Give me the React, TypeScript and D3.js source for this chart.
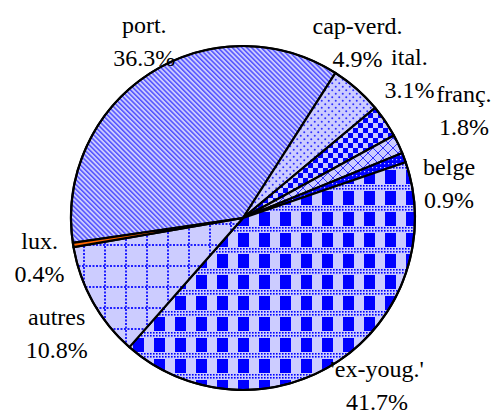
import React, { useEffect, useRef } from "react";
import * as d3 from "d3";

const W = 497;
const H = 414;
const cx = 243;
const cy = 218;
const radius = 172;

// slices, clockwise from the top-left ("port.")
const categories = ["port.", "cap-verd.", "ital.", "franç.", "belge", "'ex-youg.'", "autres", "lux."];
const shares = [36.3, 4.9, 3.1, 1.8, 0.9, 41.7, 10.8, 0.4];
const fills = ["url(#pPort)", "url(#pCap)", "url(#pItal)", "url(#pFranc)", "url(#pBelge)", "url(#pYoug)", "url(#pAutres)", "#ff6600"];

// where each label sits: angle shift (deg) from the slice middle, and distance from centre
const labelShift = [3.8, -8.3, -6.9, -0.7, 11, -5, -2.5, -1.7];
const labelDist = [203, 210, 221, 246, 209, 214, 219, 207];

const LIGHT = "#ccccff";
const BLUE = "#0000ff";
const FONT = "'Liberation Serif', 'Times New Roman', Times, Tinos, 'DejaVu Serif', 'Noto Serif', 'Noto Serif CJK SC', FreeSerif, serif";

export default function App() {
  const ref = useRef<SVGSVGElement>(null);

  useEffect(() => {
    const svg = d3.select(ref.current);
    svg.selectAll("*").remove();

    const defs = svg.append("defs");

    // diagonal stripes
    const pPort = defs.append("pattern").attr("id", "pPort").attr("patternUnits", "userSpaceOnUse")
      .attr("width", 3.4).attr("height", 3.4).attr("patternTransform", "rotate(-45)");
    pPort.append("rect").attr("width", 3.4).attr("height", 3.4).attr("fill", LIGHT);
    pPort.append("rect").attr("width", 1.5).attr("height", 3.4).attr("fill", "#5050ff");

    // sparse dots
    const pCap = defs.append("pattern").attr("id", "pCap").attr("patternUnits", "userSpaceOnUse")
      .attr("width", 7).attr("height", 7);
    pCap.append("rect").attr("width", 7).attr("height", 7).attr("fill", LIGHT);
    pCap.append("circle").attr("cx", 1.75).attr("cy", 1.75).attr("r", 1).attr("fill", "#3030ff");
    pCap.append("circle").attr("cx", 5.25).attr("cy", 5.25).attr("r", 1).attr("fill", "#3030ff");

    // checkerboard
    const pItal = defs.append("pattern").attr("id", "pItal").attr("patternUnits", "userSpaceOnUse")
      .attr("width", 10).attr("height", 10);
    pItal.append("rect").attr("width", 10).attr("height", 10).attr("fill", LIGHT);
    pItal.append("rect").attr("width", 5).attr("height", 5).attr("fill", BLUE);
    pItal.append("rect").attr("x", 5).attr("y", 5).attr("width", 5).attr("height", 5).attr("fill", BLUE);

    // thin lattice
    const pFranc = defs.append("pattern").attr("id", "pFranc").attr("patternUnits", "userSpaceOnUse")
      .attr("width", 10).attr("height", 10);
    pFranc.append("rect").attr("width", 10).attr("height", 10).attr("fill", LIGHT);
    pFranc.append("path").attr("d", "M0,10L10,0M0,0L10,10").attr("stroke", "#3030ff").attr("stroke-width", 1);

    // blue with light dots
    const pBelge = defs.append("pattern").attr("id", "pBelge").attr("patternUnits", "userSpaceOnUse")
      .attr("width", 4).attr("height", 4);
    pBelge.append("rect").attr("width", 4).attr("height", 4).attr("fill", BLUE);
    pBelge.append("rect").attr("x", 1).attr("y", 1).attr("width", 1.2).attr("height", 1.2).attr("fill", LIGHT);

    // tiny dots used inside the plaid bands
    const pFine = defs.append("pattern").attr("id", "pFine").attr("patternUnits", "userSpaceOnUse")
      .attr("width", 3).attr("height", 3);
    pFine.append("rect").attr("width", 3).attr("height", 3).attr("fill", LIGHT);
    pFine.append("rect").attr("width", 1.6).attr("height", 1.6).attr("fill", BLUE);

    // plaid
    const pYoug = defs.append("pattern").attr("id", "pYoug").attr("patternUnits", "userSpaceOnUse")
      .attr("width", 21).attr("height", 21);
    pYoug.append("rect").attr("width", 21).attr("height", 21).attr("fill", LIGHT);
    pYoug.append("rect").attr("x", 0).attr("width", 6).attr("height", 21).attr("fill", BLUE);
    pYoug.append("rect").attr("x", 16).attr("width", 5).attr("height", 21).attr("fill", BLUE);
    pYoug.append("rect").attr("y", 8).attr("width", 21).attr("height", 7).attr("fill", "url(#pFine)");

    // dotted grid
    const pAutres = defs.append("pattern").attr("id", "pAutres").attr("patternUnits", "userSpaceOnUse")
      .attr("width", 21).attr("height", 21);
    pAutres.append("rect").attr("width", 21).attr("height", 21).attr("fill", LIGHT);
    pAutres.append("line").attr("x1", 9).attr("x2", 9).attr("y1", 0).attr("y2", 21)
      .attr("stroke", "#2020ff").attr("stroke-width", 2).attr("stroke-dasharray", "2 1.5");
    pAutres.append("line").attr("x1", 0).attr("x2", 21).attr("y1", 6).attr("y2", 6)
      .attr("stroke", "#2020ff").attr("stroke-width", 2).attr("stroke-dasharray", "2 1.5");

    const start = (-98.3 * Math.PI) / 180;
    const pie = d3.pie<number>().sort(null).value(d => d).startAngle(start).endAngle(start + 2 * Math.PI);
    const arcs = pie(shares);
    const arc = d3.arc<d3.PieArcDatum<number>>().innerRadius(0).outerRadius(radius);

    const g = svg.append("g").attr("transform", "translate(" + cx + "," + cy + ")");

    g.selectAll("path.slice")
      .data(arcs)
      .enter()
      .append("path")
      .attr("class", "slice")
      .attr("d", arc)
      .attr("fill", (d, i) => fills[i])
      .attr("stroke", "#000")
      .attr("stroke-width", 2.2)
      .attr("stroke-linejoin", "round");

    g.append("circle").attr("r", radius).attr("fill", "none").attr("stroke", "#000").attr("stroke-width", 2);

    const labels = g.selectAll("text.lbl")
      .data(arcs)
      .enter()
      .append("text")
      .attr("class", "lbl")
      .attr("text-anchor", "middle")
      .style("font-family", FONT)
      .style("font-size", "24px")
      .attr("fill", "#000")
      .attr("transform", (d, i) => {
        const a = (d.startAngle + d.endAngle) / 2 + (labelShift[i] * Math.PI) / 180;
        const r = labelDist[i];
        return "translate(" + r * Math.sin(a) + "," + -r * Math.cos(a) + ")";
      });

    labels.append("tspan").attr("x", 0).attr("y", -8).text((d, i) => categories[i]);
    labels.append("tspan").attr("x", 0).attr("y", 25).text((d, i) => shares[i].toFixed(1) + "%");
  }, []);

  return (
    <svg
      ref={ref}
      width={W}
      height={H}
      style={{ position: "absolute", left: 0, top: 0, background: "#fff" }}
    />
  );
}
